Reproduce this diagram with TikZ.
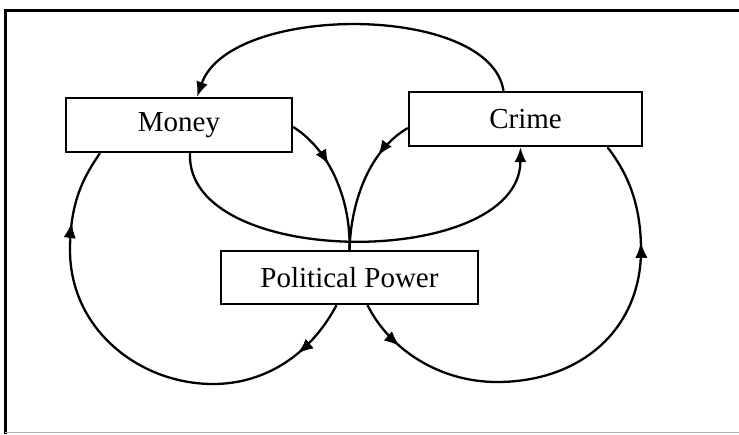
\documentclass[tikz,border=0pt]{standalone}
\usepackage{fontspec}
\setmainfont{Liberation Serif}
\usepackage{tikz}
\usetikzlibrary{arrows.meta}
\usetikzlibrary{decorations.markings}
\tikzstyle{arrow} = [line width=2.3pt,-{Latex[length=15pt,width=12pt]}]
\tikzstyle{loop} = [line width=2.3pt]

\begin{document}
\begin{tikzpicture}[x=1pt,y=-1pt,
	factor/.style={rectangle, draw, line width=2.4pt, minimum height=54pt, inner sep=0pt, font=\fontsize{29}{34}\selectfont},
	tipat/.style={postaction={decorate}, decoration={markings, mark=at position #1 with {\arrow{Latex[length=15pt,width=12pt]}}}}]
			
			\useasboundingbox (0,0) rectangle (739,434);
			
			% FRAME
			
			\draw[line width=3pt] (5,434) -- (5,10) -- (745,10);
			\draw[line width=1pt, gray!60] (5,432) -- (745,432);
			
			% FACTORS
			
			\node [factor, minimum width=226pt] (money) at (179,125) {Money};
			\node [factor, minimum width=233pt] (crime) at (525.5,119) {Crime};
			\node [factor, minimum width=257pt, minimum height=53pt] (power) at (349.5,277.5) {Political Power};
			
			% LINKS
			
			\draw [arrow] ([xshift=-22pt]crime.north) .. controls (490,3) and (230,3) .. ([xshift=18pt]money.north);
			\draw [arrow] ([xshift=11pt]money.south) .. controls (185,270) and (520,270) .. ([xshift=-5pt]crime.south);
			\draw [loop, tipat=0.37] ([yshift=-2pt]money.east) .. controls (330,150) and (351,200) .. (power.north);
			\draw [loop, tipat=0.29] ([yshift=-9pt]crime.west) .. controls (370,150) and (351,200) .. (power.north);
			
			% LOOPS
			
			\draw [loop, tipat=62pt, tipat=-76pt] ([xshift=-13pt]power.south) .. controls (310,355) and (265,384) .. (213,384)
				.. controls (140,384) and (70,330) .. (70,250)
				.. controls (70,200) and (85,175) .. ([xshift=-79pt]money.south);
			\draw [loop, tipat=52pt, tipat=-103pt] ([xshift=18pt]power.south) .. controls (390,350) and (440,382) .. (497,382)
				.. controls (580,382) and (641,330) .. (641,250)
				.. controls (641,200) and (625,170) .. ([xshift=82pt]crime.south);
			
		 \end{tikzpicture}
\end{document}
